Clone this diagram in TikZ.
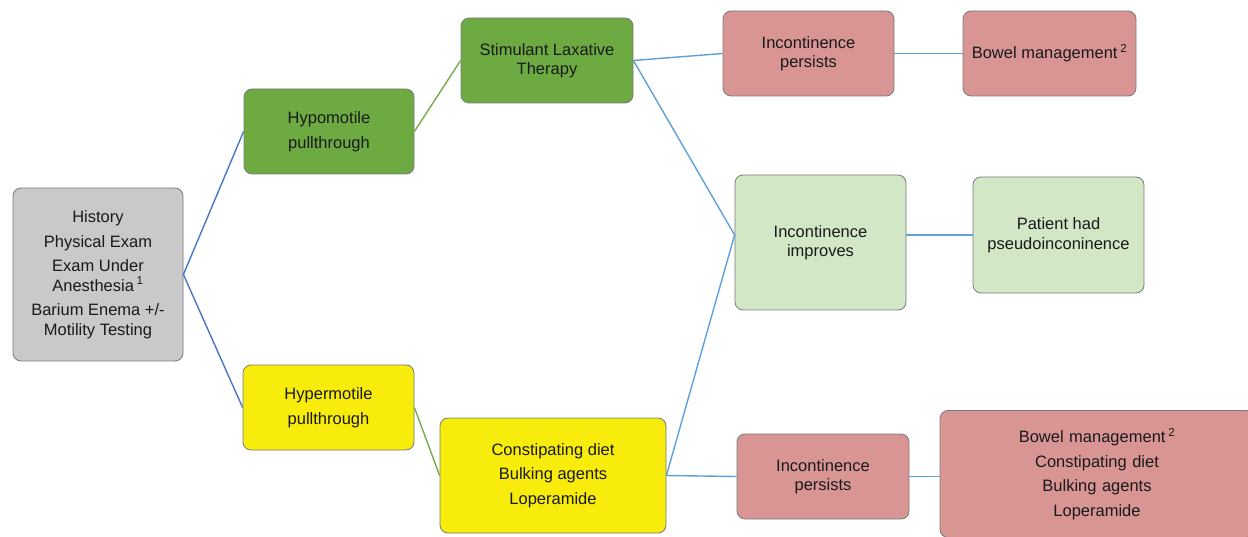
\documentclass[tikz,border=0pt]{standalone}
\usepackage{fontspec}
\setmainfont{Liberation Sans}
\definecolor{cgray}{HTML}{C9C9C9}
\definecolor{cdgreen}{HTML}{6DAA41}
\definecolor{clgreen}{HTML}{D2E7C6}
\definecolor{cpink}{HTML}{D99594}
\definecolor{cyellow}{HTML}{F7EC0C}
\definecolor{cborder}{HTML}{7A7A7A}
\definecolor{ctext}{HTML}{1A1A1A}
\definecolor{lblue}{HTML}{4A76C6}
\definecolor{llblue}{HTML}{5FA0DB}
\definecolor{lgreen}{HTML}{74AE4C}
\begin{document}
\begin{tikzpicture}[x=1pt,y=-1pt,
  box/.style={draw=cborder, line width=0.8pt, rounded corners=8pt, align=center,
    font=\fontsize{16.5}{19.5}\selectfont, text=ctext, inner sep=2pt},
  graybox/.style={box, fill=cgray},
  dgbox/.style={box, fill=cdgreen},
  lgbox/.style={box, fill=clgreen},
  pbox/.style={box, fill=cpink},
  ybox/.style={box, fill=cyellow},
  bl/.style={draw=lblue, line width=1.4pt},
  lbl/.style={draw=llblue, line width=1.4pt},
  gl/.style={draw=lgreen, line width=1.4pt}]
\useasboundingbox (0,0) rectangle (1248,537);
\begin{scope}
\clip (0,0) rectangle (1248,537);
\node[graybox, minimum width=170pt, minimum height=173pt] (hist) at (98,274.5)
  {History\\[5pt]Physical Exam\\[5pt]Exam Under\\Anesthesia\,\textsuperscript{1}\\[5pt]Barium Enema +/-\\Motility Testing};
\node[dgbox, minimum width=170pt, minimum height=85pt] (hypo) at (329,131.5) {Hypomotile\\[5pt]pullthrough};
\node[dgbox, minimum width=172pt, minimum height=85pt] (stim) at (547,60.5) {Stimulant Laxative\\Therapy};
\node[pbox, minimum width=171pt, minimum height=85pt] (ip1) at (808.5,53.5) {Incontinence\\persists};
\node[pbox, minimum width=173pt, minimum height=85pt] (bm1) at (1049.5,53.5) {Bowel management\,\textsuperscript{2}};
\node[lgbox, minimum width=171pt, minimum height=135pt] (ii) at (820.5,242.5) {Incontinence\\improves};
\node[lgbox, minimum width=171pt, minimum height=116pt] (pat) at (1058.5,235) {Patient had\\pseudoinconinence};
\node[ybox, minimum width=171pt, minimum height=85pt] (hyper) at (328.5,407.5) {Hypermotile\\[5pt]pullthrough};
\node[ybox, minimum width=226pt, minimum height=115pt] (const) at (553,475.5) {Constipating diet\\[5pt]Bulking agents\\[5pt]Loperamide};
\node[pbox, minimum width=172pt, minimum height=85pt] (ip2) at (823,476.5) {Incontinence\\persists};
\node[pbox, minimum width=314pt, minimum height=127pt, text width=300pt] (bm2) at (1097,474)
  {Bowel management\,\textsuperscript{2}\\[5pt]Constipating diet\\[5pt]Bulking agents\\[5pt]Loperamide};
\end{scope}
\coordinate (iiin) at (ii.west |- pat.west);
\draw[bl] (hist.east) -- (hypo.west);
\draw[bl] (hist.east) -- (hyper.west);
\draw[gl] (hypo.east) -- (stim.west);
\draw[gl] (hyper.east) -- (const.west);
\draw[lbl] (stim.east) -- (ip1.west);
\draw[lbl] (stim.east) -- (iiin);
\draw[lbl] (const.east) -- (iiin);
\draw[lbl] (const.east) -- (ip2.west);
\draw[lbl] (ip1.east) -- (bm1.west);
\draw[lbl] (ii.east |- pat.west) -- (pat.west);
\draw[lbl] (ip2.east) -- (ip2.east -| bm2.west);
\end{tikzpicture}
\end{document}
